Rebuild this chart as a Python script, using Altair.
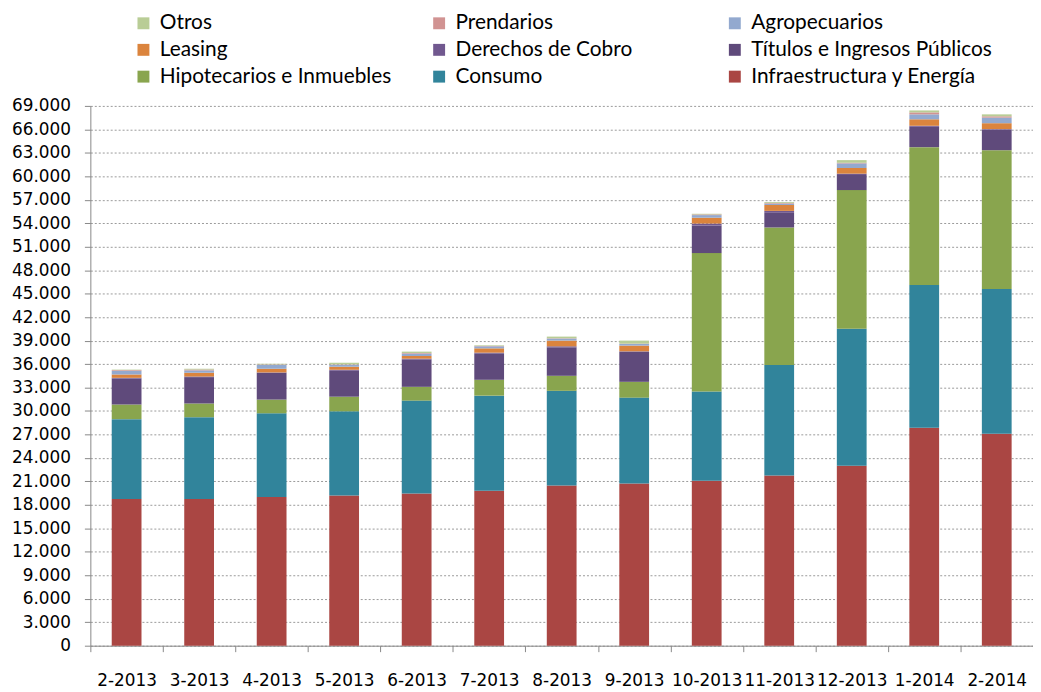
import altair as alt
import pandas as pd

meses = ["2-2013", "3-2013", "4-2013", "5-2013", "6-2013", "7-2013", "8-2013",
         "9-2013", "10-2013", "11-2013", "12-2013", "1-2014", "2-2014"]

infraestructura = [18760, 18760, 19020, 19190, 19460, 19800, 20490, 20740, 21080, 21750, 23000, 27850, 27090]
consumo = [10200, 10450, 10690, 10770, 11870, 12160, 12090, 10970, 11410, 14130, 17500, 18260, 18510]
hipotecarios = [1870, 1750, 1750, 1870, 1760, 2030, 1920, 2020, 17700, 17580, 17740, 17620, 17740]
titulos = [3330, 3370, 3430, 3310, 3510, 3380, 3640, 3860, 3520, 1870, 1930, 2600, 2620]
derechos = [80, 80, 40, 130, 90, 90, 130, 40, 250, 250, 170, 130, 80]
leasing = [430, 480, 470, 390, 340, 550, 730, 730, 750, 750, 720, 830, 750]
agropecuarios = [470, 300, 510, 250, 300, 260, 260, 210, 330, 170, 590, 630, 710]
prendarios = [90, 110, 50, 50, 80, 50, 40, 40, 90, 80, 80, 250, 170]
otros = [60, 100, 80, 210, 180, 80, 210, 390, 80, 120, 340, 250, 250]

# bottom -> top stacking order
series = [
    ("Infraestructura y Energía", infraestructura, "#AA4643"),
    ("Consumo", consumo, "#31849B"),
    ("Hipotecarios e Inmuebles", hipotecarios, "#89A54E"),
    ("Títulos e Ingresos  Públicos", titulos, "#5F4A7B"),
    ("Derechos de Cobro", derechos, "#71588F"),
    ("Leasing", leasing, "#DB843D"),
    ("Agropecuarios", agropecuarios, "#93A9CF"),
    ("Prendarios", prendarios, "#D19392"),
    ("Otros", otros, "#B9CD96"),
]

rows = []
for i, (name, vals, _) in enumerate(series):
    for m, v in zip(meses, vals):
        rows.append({"mes": m, "serie": name, "valor": v, "orden": i})
df = pd.DataFrame(rows)

legend_order = ["Otros", "Prendarios", "Agropecuarios",
                "Leasing", "Derechos de Cobro", "Títulos e Ingresos  Públicos",
                "Hipotecarios e Inmuebles", "Consumo", "Infraestructura y Energía"]
color_map = {n: c for n, _, c in series}
legend_colors = [color_map[n] for n in legend_order]

ticks = list(range(0, 69001, 3000))

chart = alt.Chart(df).mark_bar(width=30).encode(
    x=alt.X("mes:N", sort=meses, title=None,
            scale=alt.Scale(paddingInner=0, paddingOuter=0),
            axis=alt.Axis(labelAngle=0, labelFont="DejaVu Sans", labelFontSize=17,
                          labelColor="#000000", labelOverlap=False, labelBound=False,
                          tickBand="extent", tickSize=6, tickColor="#888888",
                          domainColor="#888888", labelPadding=21, grid=False)),
    y=alt.Y("valor:Q", stack="zero", title=None,
            scale=alt.Scale(domain=[0, 69000], nice=False, zero=True),
            axis=alt.Axis(values=ticks, labelFont="DejaVu Sans", labelFontSize=17,
                          labelColor="#000000",
                          labelExpr="replace(format(datum.value, ','), ',', '.')",
                          tickSize=6, tickColor="#888888", domainColor="#888888",
                          labelPadding=14, grid=True, gridColor="#9a9a9a",
                          gridDash=[2, 2], gridWidth=1)),
    color=alt.Color("serie:N",
                    scale=alt.Scale(domain=legend_order, range=legend_colors),
                    legend=alt.Legend(title=None, orient="none", legendX=43, legendY=-94,
                                      columns=3, direction="horizontal", gridAlign="all",
                                      columnPadding=22, rowPadding=5,
                                      symbolType="square", symbolSize=144,
                                      symbolStrokeWidth=0, labelFont="Lato",
                                      labelFontSize=21, labelColor="#000000",
                                      labelOffset=6, labelLimit=400, padding=0)),
    order=alt.Order("orden:Q", sort="ascending"),
).properties(
    width=950, height=544,
    autosize=alt.AutoSizeParams(type="none"),
    padding={"left": 83, "top": 96, "right": 0, "bottom": 44},
).configure_view(stroke=None)

chart.save("out.html", embed_options={"renderer": "svg", "actions": False})
